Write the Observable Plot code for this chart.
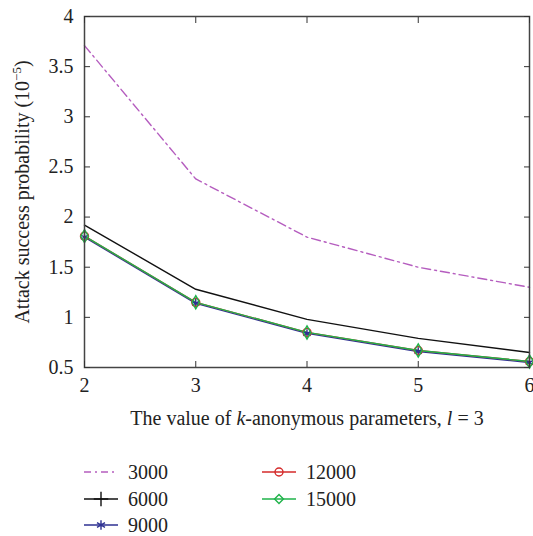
<!DOCTYPE html>
<html><head><meta charset="utf-8">
<script src="https://cdn.jsdelivr.net/npm/d3@7"></script>
<script src="https://cdn.jsdelivr.net/npm/@observablehq/plot@0.6"></script>
<style>
body{margin:0;background:#fff;font-family:"Liberation Serif","Times New Roman",serif;}
#legend{position:relative;height:96px;width:533px;font-family:"Liberation Serif","Times New Roman",serif;font-size:20px;line-height:20px;color:#222;}
.item{position:absolute;display:flex;align-items:center;height:20px;}
.item svg{margin-right:10px;}
</style></head><body>
<div id="chart"></div>
<div id="legend"></div>
<script>
const kValues = [2, 3, 4, 5, 6];
const seriesNames = ["3000", "6000", "9000", "12000", "15000"];
const s3000 = [3.71, 2.38, 1.80, 1.50, 1.30];
const s6000 = [1.92, 1.28, 0.98, 0.79, 0.65];
const s9000 = [1.80, 1.14, 0.84, 0.66, 0.55];
const s12000 = [1.81, 1.15, 0.85, 0.67, 0.56];
const s15000 = [1.81, 1.15, 0.85, 0.67, 0.56];
const xTicks = [2, 3, 4, 5, 6];
const yTicks = [0.5, 1, 1.5, 2, 2.5, 3, 3.5, 4];

const FONT = "'Liberation Serif', 'Times New Roman', serif";
const colors = {"3000": "#b55dbf", "6000": "#111111", "9000": "#2e3192", "12000": "#d42a2a", "15000": "#1fb34a"};
const dashes = {"3000": "9,4,2,4", "6000": null, "9000": null, "12000": null, "15000": null};
const symbols = {"3000": null, "6000": null, "9000": "asterisk", "12000": "circle", "15000": "diamond"};
const legendSymbols = {"3000": null, "6000": d3.symbolPlus, "9000": d3.symbolAsterisk, "12000": d3.symbolCircle, "15000": d3.symbolDiamond2};

const allSeries = [s3000, s6000, s9000, s12000, s15000];
const rows = [];
seriesNames.forEach((name, i) => kValues.forEach((k, j) => rows.push({series: name, k, v: allSeries[i][j]})));

const marks = [];
for (const name of seriesNames) {
  const d = rows.filter(r => r.series === name);
  marks.push(Plot.line(d, {x: "k", y: "v", stroke: colors[name], strokeWidth: 1.4, strokeDasharray: dashes[name]}));
}
for (const name of seriesNames) {
  if (!symbols[name]) continue;
  const d = rows.filter(r => r.series === name);
  marks.push(Plot.dot(d, {x: "k", y: "v", stroke: colors[name], symbol: symbols[name], r: 4, strokeWidth: 1.4, fill: "none"}));
}

const chart = Plot.plot({
  width: 533, height: 440,
  marginLeft: 84, marginRight: 4, marginTop: 16, marginBottom: 73,
  style: {fontFamily: FONT, fontSize: "20px", color: "#222", background: "white"},
  x: {domain: [2, 6]},
  y: {domain: [0.5, 4]},
  marks: [
    ...marks,
    Plot.frame({stroke: "#444", strokeWidth: 1.5}),
    Plot.axisX(xTicks, {anchor: "bottom", tickSize: -6, tickPadding: 16, stroke: "#333", fontSize: 20, fontFamily: FONT, label: null, tickFormat: d => String(d)}),
    Plot.axisX(xTicks, {anchor: "top", tickSize: -6, stroke: "#333", text: null, label: null}),
    Plot.axisY(yTicks, {anchor: "left", tickSize: -6, tickPadding: 17, stroke: "#333", fontSize: 20, fontFamily: FONT, label: null, tickFormat: d => String(d)}),
    Plot.axisY(yTicks, {anchor: "right", tickSize: -6, stroke: "#333", text: null, label: null}),
    Plot.text(["The value of k-anonymous parameters, l = 3"], {x: 4, frameAnchor: "bottom", dy: 57, fontSize: 20, fontFamily: FONT, fill: "#222", text: d => d}),
    Plot.text(["Attack success probability (10⁻⁵)"], {frameAnchor: "left", textAnchor: "middle", dx: -62, rotate: -90, fontSize: 20, fontFamily: FONT, fill: "#222", text: d => d})
  ]
});
document.getElementById("chart").appendChild(chart);

chart.querySelectorAll("text").forEach(t => {
  if (t.textContent === "The value of k-anonymous parameters, l = 3") {
    t.innerHTML = 'The value of <tspan font-style="italic">k</tspan>-anonymous parameters, <tspan font-style="italic">l</tspan> = 3';
  }
  if (t.textContent === "Attack success probability (10⁻⁵)") {
    t.innerHTML = 'Attack success probability (10<tspan font-size="13" dy="-8">−5</tspan><tspan dy="8">)</tspan>';
  }
});

const legend = document.getElementById("legend");
const positions = [[84, 22], [84, 49], [84, 75], [262, 22], [262, 49]];
seriesNames.forEach((name, i) => {
  const div = document.createElement("div");
  div.className = "item";
  div.style.left = positions[i][0] + "px";
  div.style.top = positions[i][1] + "px";
  const w = 34, h = 20;
  let svg = `<svg width="${w}" height="${h}"><line x1="0" x2="${w}" y1="${h/2}" y2="${h/2}" stroke="${colors[name]}" stroke-width="1.4" ${dashes[name] ? `stroke-dasharray="7,4,2,4"` : ""}/>`;
  if (legendSymbols[name]) {
    const size = name === "6000" ? 70 : name === "9000" ? 60 : 50;
    svg += `<path transform="translate(${w/2},${h/2})" d="${d3.symbol(legendSymbols[name], size)()}" fill="none" stroke="${colors[name]}" stroke-width="1.4"/>`;
  }
  svg += `</svg>`;
  div.innerHTML = svg + `<span>${name}</span>`;
  legend.appendChild(div);
});
</script>
</body></html>
